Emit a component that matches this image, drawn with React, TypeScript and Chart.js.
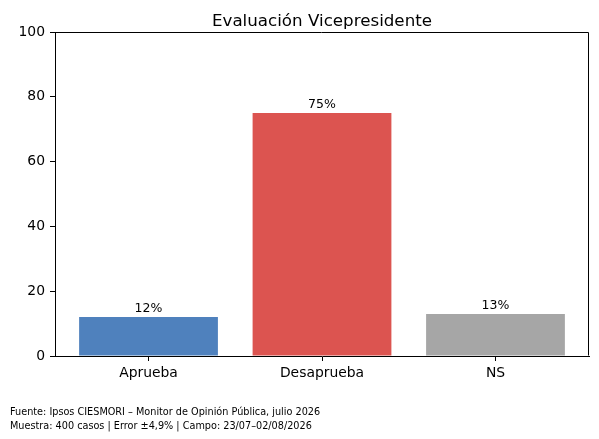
import React, { useEffect, useRef } from "react";
import { Chart, registerables } from "chart.js";

Chart.register(...registerables);

const categories = ["Aprueba", "Desaprueba", "NS"];
const values = [12, 75, 13];
const valueLabels = ["12%", "75%", "13%"];
const barColors = ["#4F81BD", "#DC5450", "#A6A6A6"];
const yTicks = [0, 20, 40, 60, 80, 100];
const title = "Evaluación Vicepresidente";
const footerLines = [
  "Fuente: Ipsos CIESMORI – Monitor de Opinión Pública, julio 2026",
  "Muestra: 400 casos | Error ±4,9% | Campo: 23/07–02/08/2026",
];

const FONT = "'DejaVu Sans', sans-serif";

export default function App() {
  const ref = useRef<HTMLCanvasElement | null>(null);

  useEffect(() => {
    document.body.style.margin = "0";
    const canvas = ref.current;
    if (!canvas) return;

    const overlay = {
      id: "overlay",
      afterDatasetsDraw(chart: any) {
        const ctx = chart.ctx;
        const meta = chart.getDatasetMeta(0);
        ctx.save();
        ctx.fillStyle = "#000";
        ctx.font = `12.5px ${FONT}`;
        ctx.textAlign = "center";
        ctx.textBaseline = "alphabetic";
        meta.data.forEach((el: any, i: number) => {
          ctx.fillText(valueLabels[i], el.x, el.y - 5);
        });
        ctx.restore();
      },
      afterDraw(chart: any) {
        const ctx = chart.ctx;
        const a = chart.chartArea;
        ctx.save();
        ctx.strokeStyle = "#000";
        ctx.lineWidth = 1;
        const L = Math.round(a.left) - 0.5;
        const R = Math.round(a.right) - 0.5;
        const T = Math.round(a.top) + 0.5;
        const B = Math.round(a.bottom) - 0.5;
        ctx.beginPath();
        ctx.moveTo(L, T);
        ctx.lineTo(R, T);
        ctx.lineTo(R, B);
        ctx.stroke();
        ctx.fillStyle = "#000";
        ctx.font = `16.7px ${FONT}`;
        ctx.textAlign = "center";
        ctx.textBaseline = "alphabetic";
        ctx.fillText(title, (a.left + a.right) / 2, 26);
        ctx.font = `9.7px ${FONT}`;
        ctx.textAlign = "left";
        footerLines.forEach((line, i) => {
          ctx.fillText(line, 10, 415 + i * 13.5);
        });
        ctx.restore();
      },
    };

    const chart = new Chart(canvas, {
      type: "bar",
      data: {
        datasets: [
          {
            data: values.map((v, i) => ({ x: i, y: v })),
            backgroundColor: barColors,
            borderWidth: 0,
            barPercentage: 0.8,
            categoryPercentage: 1,
          },
        ],
      },
      options: {
        animation: false,
        responsive: false,
        devicePixelRatio: 1,
        layout: { padding: { left: 0, top: 32, right: 10, bottom: 0 } },
        plugins: {
          legend: { display: false },
          tooltip: { enabled: false },
          title: { display: false },
        },
        scales: {
          x: {
            type: "linear",
            offset: false,
            min: -0.539,
            max: 2.539,
            afterBuildTicks: (scale: any) => {
              scale.ticks = categories.map((_, i) => ({ value: i }));
            },
            afterFit: (scale: any) => {
              scale.height = 83;
            },
            ticks: {
              autoSkip: false,
              maxRotation: 0,
              padding: 4,
              color: "#000",
              font: { family: FONT, size: 13.9 },
              callback: (v: any) => categories[v] ?? "",
            },
            grid: {
              offset: false,
              drawOnChartArea: false,
              drawTicks: true,
              tickLength: 5,
              color: "#000",
            },
            border: { display: true, color: "#000", width: 1 },
          },
          y: {
            min: 0,
            max: 100,
            afterBuildTicks: (scale: any) => {
              scale.ticks = yTicks.map((v) => ({ value: v }));
            },
            afterFit: (scale: any) => {
              scale.width = 55;
            },
            ticks: {
              padding: 5,
              color: "#000",
              font: { family: FONT, size: 13.9 },
            },
            grid: {
              drawOnChartArea: false,
              drawTicks: true,
              tickLength: 5,
              color: "#000",
            },
            border: { display: true, color: "#000", width: 1 },
          },
        },
      },
      plugins: [overlay],
    } as any);

    return () => chart.destroy();
  }, []);

  return (
    <div style={{ position: "fixed", left: 0, top: 0, width: 599, height: 439, background: "#fff" }}>
      <canvas ref={ref} width={599} height={439} style={{ display: "block", width: 599, height: 439 }} />
    </div>
  );
}
